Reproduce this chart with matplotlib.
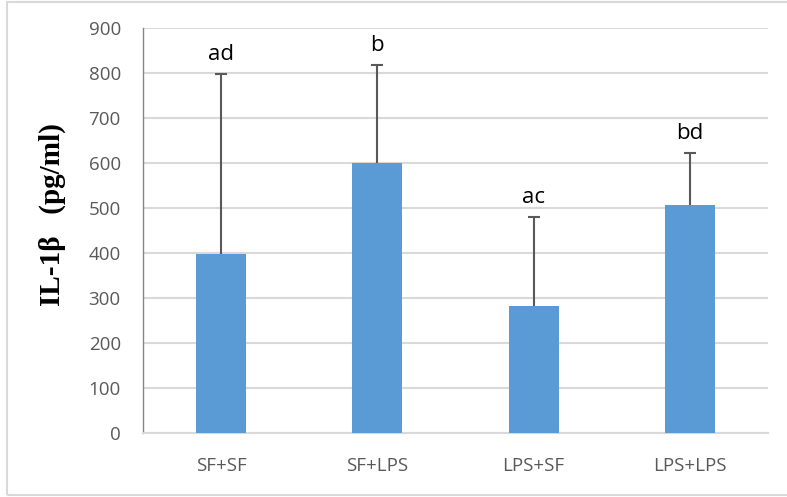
import matplotlib
matplotlib.use("Agg")
import matplotlib.pyplot as plt
from matplotlib.patches import Rectangle
import numpy as np

groups = ["SF+SF", "SF+LPS", "LPS+SF", "LPS+LPS"]
means = [397, 600, 282, 507]
sd_upper = [401, 217, 198, 115]
letters = ["ad", "b", "ac", "bd"]
yticks = [0, 100, 200, 300, 400, 500, 600, 700, 800, 900]

fig = plt.figure(figsize=(7.87, 4.97), dpi=100)
ax = fig.add_axes([143 / 787, 1 - 433 / 497, 625 / 787, 405 / 497])

x = np.arange(len(groups))
ax.bar(x, means, width=0.32, color="#5B9BD5", zorder=3)
_, caps, _ = ax.errorbar(x, means, yerr=[np.zeros(len(means)), sd_upper],
                         fmt="none", ecolor="#595959", elinewidth=1.5,
                         capsize=4.5, capthick=1.5, zorder=4)
# upper whisker only: hide the cap drawn at the bar top
caps[0].set_visible(False)

for xi, m, e, lab in zip(x, means, sd_upper, letters):
    ax.annotate(lab, (xi, m + e), xytext=(0, 10), textcoords="offset points",
                ha="center", va="baseline", fontsize=16, family="Open Sans",
                color="black")

ax.set_xlim(-0.5, len(groups) - 0.5)
ax.set_ylim(0, 900)
ax.set_yticks(yticks)
ax.set_xticks(x)
ax.set_xticklabels(groups)
ax.yaxis.grid(True, color="#d9d9d9", linewidth=1.5, zorder=0)
ax.set_axisbelow(True)

for s in ["top", "right"]:
    ax.spines[s].set_visible(False)
ax.spines["left"].set_color("#868686")
ax.spines["left"].set_linewidth(1.0)
ax.spines["bottom"].set_color("#d9d9d9")
ax.spines["bottom"].set_linewidth(1.5)

ax.tick_params(axis="both", length=0, labelsize=13.5, labelcolor="#595959")
ax.tick_params(axis="y", pad=16)
ax.tick_params(axis="x", pad=17)
for t in ax.get_xticklabels() + ax.get_yticklabels():
    t.set_family("Open Sans")

ax.set_ylabel("IL-1β   (pg/ml)", fontsize=21, family="Liberation Serif",
              fontweight="bold")
ax.yaxis.set_label_coords(-0.124, (433 - 215) / 405)

fig.patches.append(Rectangle((7 / 787, 2 / 497), 790 / 787, 493 / 497,
                             transform=fig.transFigure, fill=False,
                             edgecolor="#d9d9d9", linewidth=1.5))

fig.savefig("out.png", dpi=100)
